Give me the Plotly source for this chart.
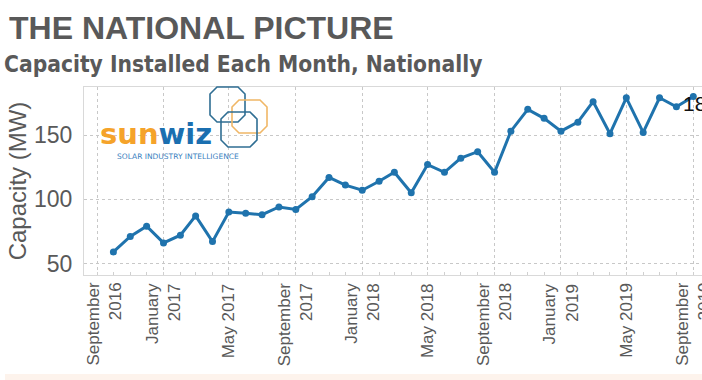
import plotly.graph_objects as go

# ---------------- data ----------------
months = ["2016-10-01", "2016-11-01", "2016-12-01",
          "2017-01-01", "2017-02-01", "2017-03-01", "2017-04-01", "2017-05-01", "2017-06-01",
          "2017-07-01", "2017-08-01", "2017-09-01", "2017-10-01", "2017-11-01", "2017-12-01",
          "2018-01-01", "2018-02-01", "2018-03-01", "2018-04-01", "2018-05-01", "2018-06-01",
          "2018-07-01", "2018-08-01", "2018-09-01", "2018-10-01", "2018-11-01", "2018-12-01",
          "2019-01-01", "2019-02-01", "2019-03-01", "2019-04-01", "2019-05-01", "2019-06-01",
          "2019-07-01", "2019-08-01", "2019-09-01"]
capacity_mw = [59, 71, 79, 66, 72, 87, 67, 90, 89, 88, 94, 92, 102, 117, 111,
               107, 114, 121, 105, 127, 121, 132, 137, 121, 153, 170, 163,
               153, 160, 176, 151, 179, 152, 179, 172, 180]

tick_dates = ["2016-09-01", "2017-01-01", "2017-05-01", "2017-09-01", "2018-01-01",
              "2018-05-01", "2018-09-01", "2019-01-01", "2019-05-01", "2019-09-01"]
tick_labels = ["September<br>2016", "January<br>2017", "May 2017", "September<br>2017",
               "January<br>2018", "May 2018", "September<br>2018", "January<br>2019",
               "May 2019", "September<br>2019"]
y_ticks = [50, 100, 150]

title_text = "THE NATIONAL PICTURE"
subtitle_text = "Capacity Installed Each Month, Nationally"
y_title = "Capacity (MW)"

# ---------------- layout helpers ----------------
W, H = 702, 380
L, R, T, B = 84, 0, 87, 105
PW, PH = W - L - R, H - T - B


def pxx(x):
    return (x - L) / PW


def pxy(y):
    return (H - B - y) / PH


def octagon(x0, y0, x1, y1, c):
    pts = [(x0 + c, y0), (x1 - c, y0), (x1, y0 + c), (x1, y1 - c),
           (x1 - c, y1), (x0 + c, y1), (x0, y1 - c), (x0, y0 + c)]
    s = "M " + " L ".join(f"{pxx(a):.5f},{pxy(b):.5f}" for a, b in pts) + " Z"
    return s


LINE = "#1f73ad"
GREY = "#595959"
TICKFONT = dict(family="Liberation Sans, Arial", size=17, color=GREY)

fig = go.Figure()
fig.add_trace(go.Scatter(
    x=months, y=capacity_mw, mode="lines+markers",
    line=dict(color=LINE, width=3),
    marker=dict(color=LINE, size=7),
    hoverinfo="x+y", showlegend=False,
))

shapes = [
    # logo octagons
    dict(type="path", xref="paper", yref="paper", path=octagon(210, 87, 245, 122, 7),
         line=dict(color="#2f6e93", width=1.6), layer="above"),
    dict(type="path", xref="paper", yref="paper", path=octagon(232, 100, 267, 133, 7),
         line=dict(color="#f0b766", width=1.6), layer="above"),
    dict(type="path", xref="paper", yref="paper", path=octagon(221, 112, 257, 147, 7),
         line=dict(color="#2f6e93", width=1.6), layer="above"),
    # bottom strip
    dict(type="rect", xref="paper", yref="paper", x0=pxx(5), x1=pxx(702), y0=pxy(380), y1=pxy(374),
         fillcolor="#fdf3ec", line=dict(width=0), layer="below"),
]

annotations = [
    dict(text=f"<b>{title_text}</b>", xref="paper", yref="paper", x=pxx(7), y=pxy(27.5),
         xanchor="left", yanchor="middle", showarrow=False,
         font=dict(family="Liberation Sans, Arial", size=32, color=GREY)),
    dict(text=f"<b>{subtitle_text}</b>", xref="paper", yref="paper", x=pxx(2), y=pxy(64.5),
         xanchor="left", yanchor="middle", showarrow=False,
         font=dict(family="DejaVu Sans Condensed, DejaVu Sans", size=22.6, color=GREY)),
    # logo text
    dict(text="<b><span style='color:#f5a32a'>sun</span><span style='color:#1b6fb0'>wiz</span></b>",
         xref="paper", yref="paper", x=pxx(98), y=pxy(134), xanchor="left", yanchor="middle",
         showarrow=False, font=dict(family="DejaVu Sans", size=29)),
    dict(text="SOLAR INDUSTRY INTELLIGENCE", xref="paper", yref="paper", x=pxx(115), y=pxy(156.5),
         xanchor="left", yanchor="middle", showarrow=False,
         font=dict(family="DejaVu Sans", size=7.5, color="#3a7fc0")),
    # data label for last point
    dict(text=str(capacity_mw[-1]), x=months[-1], y=capacity_mw[-1], xref="x", yref="y",
         xanchor="left", yanchor="middle", xshift=-12, yshift=-7, showarrow=False,
         font=dict(family="Liberation Sans, Arial", size=21, color="#111111")),
]

# x tick labels (rotated, right-aligned so line ends sit against the axis)
for i, (d, lab) in enumerate(zip(tick_dates, tick_labels)):
    annotations.append(dict(
        text=lab, x=d, y=0, xref="x", yref="paper", xanchor="center", yanchor="top",
        yshift=-6, xshift=(7 if i == 0 else 0), textangle=-90, align="right",
        showarrow=False, font=TICKFONT,
    ))

fig.update_layout(
    width=W, height=H,
    margin=dict(l=L, r=R, t=T, b=B, pad=0, autoexpand=False),
    paper_bgcolor="white", plot_bgcolor="white",
    shapes=shapes, annotations=annotations,
    xaxis=dict(
        type="date", range=["2016-08-08", "2019-09-17"], automargin=False,
        tickvals=tick_dates, ticktext=tick_labels, showticklabels=False,
        showgrid=True, gridcolor="#c8c8c8", griddash="dot", gridwidth=1,
        showline=True, linecolor="#d9d9d9", linewidth=1, mirror=True,
        ticks="", zeroline=False,
        minor=dict(ticks="inside", dtick="M1", tick0="2016-09-01", ticklen=3,
                   tickcolor="#d0d0d0", showgrid=False),
    ),
    yaxis=dict(
        range=[41, 187.4], tickvals=y_ticks, automargin=False,
        tickfont=dict(family="Liberation Sans, Arial", size=23, color=GREY),
        title=dict(text=y_title, font=dict(family="Liberation Sans, Arial", size=24, color=GREY),
                   standoff=0),
        showgrid=True, gridcolor="#c8c8c8", griddash="dot", gridwidth=1,
        showline=True, linecolor="#d9d9d9", linewidth=1, mirror=True,
        ticks="", zeroline=False, ticklabelstandoff=6,
    ),
)

fig.write_html(
    "out.html",
    config={"displayModeBar": False},
    post_script="document.body.style.margin='0';document.body.style.overflow='hidden';",
)
